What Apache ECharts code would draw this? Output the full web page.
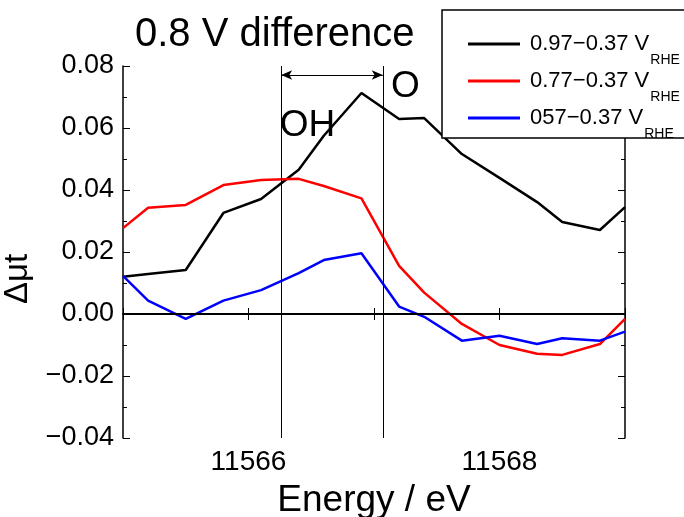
<!DOCTYPE html>
<html>
<head>
<meta charset="utf-8">
<script src="https://cdn.jsdelivr.net/npm/echarts@6/dist/echarts.min.js"></script>
<style>html,body{margin:0;padding:0;background:#fff}#c{width:684px;height:517px}</style>
</head>
<body>
<div id="c"></div>
<script>
// ---- data ----
const energy = [11565.0, 11565.2, 11565.5, 11565.8, 11566.1, 11566.4, 11566.6, 11566.9,
                11567.2, 11567.4, 11567.7, 11568.0, 11568.3, 11568.5, 11568.8, 11569.0];
const black = [0.0120, 0.0129, 0.0142, 0.0326, 0.0371, 0.0465, 0.0575, 0.0713,
               0.0629, 0.0632, 0.0516, 0.0439, 0.0361, 0.0297, 0.0271, 0.0345];
const red = [0.0277, 0.0343, 0.0352, 0.0416, 0.0432, 0.0436, 0.0413, 0.0373,
             0.0155, 0.0069, -0.0032, -0.0100, -0.0128, -0.0132, -0.0097, -0.0016];
const blue = [0.0123, 0.0043, -0.0016, 0.0043, 0.0077, 0.0132, 0.0174, 0.0196,
              0.0024, -0.0009, -0.0086, -0.0070, -0.0097, -0.0078, -0.0086, -0.0057];
const seriesNames = ['0.97\u22120.37 V', '0.77\u22120.37 V', '057\u22120.37 V'];
const seriesColors = ['#000000', '#ff0000', '#0000ff'];
const xTickLabels = [11566, 11568];
const markerLines = [11566.26, 11567.07];
const arrowY = 0.0771;
const notes = [{text: 'OH', x: 11566.47, y: 0.0606}, {text: 'O', x: 11567.25, y: 0.0732}];

const FONT = '"Liberation Sans", Arial, sans-serif';
const pair = (ys) => energy.map((e, i) => [e, ys[i]]);
const fmtY = (v) => (v < 0 ? '\u2212' : '') + Math.abs(v).toFixed(2);

const chart = echarts.init(document.getElementById('c'), null, {renderer: 'canvas'});
const axisBase = {
  axisLine: {lineStyle: {color: '#000', width: 1.5}},
  splitLine: {show: false}
};
chart.setOption({
  animation: false,
  backgroundColor: '#fff',
  title: {
    text: '0.8 V difference', left: 135, top: 15, padding: 0,
    textStyle: {fontFamily: FONT, fontSize: 40, fontWeight: 'normal', color: '#000'}
  },
  grid: {left: 123, right: 59, top: 66, bottom: 79, outerBoundsMode: 'none', containLabel: false},
  legend: {
    orient: 'vertical', left: 442, top: 10,
    data: seriesNames.map((n) => ({name: n, icon: 'rect'})),
    itemWidth: 52, itemHeight: 3, itemGap: 3,
    padding: [23, 60, -3, 26],
    backgroundColor: '#fff', borderColor: '#000', borderWidth: 1.5, borderRadius: 0,
    formatter: (n) => '{a|' + n + '}{s|RHE}',
    textStyle: {
      color: '#000',
      rich: {
        a: {fontFamily: FONT, fontSize: 22, color: '#000', lineHeight: 24, padding: [0, 0, 0, 5]},
        s: {fontFamily: FONT, fontSize: 14, color: '#000', lineHeight: 24, padding: [16, 0, -16, 1]}
      }
    }
  },
  xAxis: [
    Object.assign({}, axisBase, {
      type: 'value', min: 11565, max: 11569, interval: 1,
      axisTick: {inside: true, length: 6, lineStyle: {color: '#000', width: 1}},
      axisLabel: {
        fontFamily: FONT, fontSize: 28, color: '#000', margin: 10,
        formatter: (v) => xTickLabels.includes(v) ? String(v) : ''
      },
      name: 'Energy / eV', nameLocation: 'middle', nameGap: 44,
      nameTextStyle: {fontFamily: FONT, fontSize: 37, color: '#000'}
    }),
    Object.assign({}, axisBase, {
      type: 'value', min: 11565, max: 11569, interval: 1, position: 'top',
      axisTick: {inside: true, length: 6, lineStyle: {color: '#000', width: 1}},
      axisLabel: {show: false}
    })
  ],
  yAxis: [
    Object.assign({}, axisBase, {
      type: 'value', min: -0.04, max: 0.08, interval: 0.02,
      axisTick: {inside: true, length: 7, lineStyle: {color: '#000', width: 1}},
      minorTick: {show: true, splitNumber: 2, length: 4, lineStyle: {color: '#000', width: 1}},
      axisLabel: {fontFamily: FONT, fontSize: 27, color: '#000', margin: 9, formatter: fmtY},
      name: '\u0394\u03bct', nameLocation: 'middle', nameGap: 82, nameRotate: 90,
      nameTextStyle: {fontFamily: FONT, fontSize: 33, color: '#000', padding: [0, 54, 0, 0]}
    }),
    Object.assign({}, axisBase, {
      type: 'value', min: -0.04, max: 0.08, interval: 0.02, position: 'right',
      axisTick: {inside: true, length: 7, lineStyle: {color: '#000', width: 1}},
      minorTick: {show: true, splitNumber: 2, length: 4, lineStyle: {color: '#000', width: 1}},
      axisLabel: {show: false}
    })
  ],
  series: [
    {
      name: 'annot', type: 'line', data: [], silent: true,
      markLine: {
        silent: true, symbol: 'none', animation: false,
        label: {show: false},
        data: [
          {yAxis: 0, lineStyle: {color: '#000', width: 2, type: 'solid'}},
          ...markerLines.map((x) => ({xAxis: x, lineStyle: {color: '#000', width: 1, type: 'solid'}})),
          [
            {coord: [markerLines[0], arrowY], symbol: 'arrow', symbolSize: [7, 11],
             lineStyle: {color: '#000', width: 1, type: 'solid'}},
            {coord: [markerLines[1], arrowY], symbol: 'arrow', symbolSize: [7, 11]}
          ]
        ]
      },
      markPoint: {
        silent: true, symbol: 'circle', symbolSize: 1,
        itemStyle: {color: 'rgba(0,0,0,0)'},
        data: notes.map((n) => ({
          coord: [n.x, n.y],
          label: {show: true, position: 'inside', formatter: n.text,
                  fontFamily: FONT, fontSize: 37, color: '#000'}
        }))
      }
    },
    ...[black, red, blue].map((ys, i) => ({
      name: seriesNames[i], type: 'line', data: pair(ys), symbol: 'none',
      lineStyle: {color: seriesColors[i], width: 2.5}, itemStyle: {color: seriesColors[i]}
    }))
  ]
});
</script>
</body>
</html>
